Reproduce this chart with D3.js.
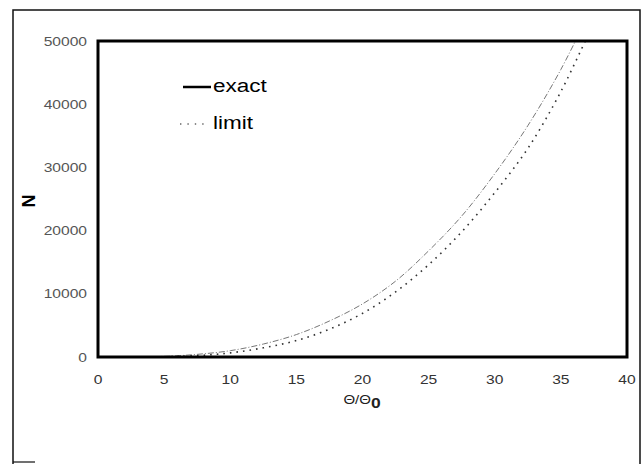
<!DOCTYPE html>
<html>
<head>
<meta charset="utf-8">
<script src="https://cdn.jsdelivr.net/npm/d3@7"></script>
<style>
  html, body { margin: 0; padding: 0; background: #fff; }
  svg { display: block; font-family: "Liberation Sans", Arial, sans-serif; }
</style>
</head>
<body>
<div id="chart"></div>
<script>
// values
const theta = [0, 5, 7.5, 10, 12.5, 15, 17.5, 20, 22.5, 25, 27.5, 30, 32.5, 35, 37.5];
const exactN = [0, 100, 420, 1000, 2050, 3550, 5700, 8400, 12000, 16800, 22300, 29000, 36600, 45500, 56000];
const limitN = [0, 40, 220, 650, 1450, 2600, 4400, 6900, 10300, 14600, 19800, 26000, 33000, 42000, 53000];
const xTicks = [0, 5, 10, 15, 20, 25, 30, 35, 40];
const yTicks = [0, 10000, 20000, 30000, 40000, 50000];

const width = 642;
const height = 464;
const plot = { left: 98, right: 627, top: 41, bottom: 357 };
const stretch = 1.25; // scan is wider than the glyphs

const x = d3.scaleLinear().domain([0, 40]).range([plot.left, plot.right]);
const y = d3.scaleLinear().domain([0, 50000]).range([plot.bottom, plot.top]);

const svg = d3.select('#chart')
  .append('svg')
  .attr('width', width)
  .attr('height', height)
  ;

// outer frame (bottom edge falls off the scan)
svg.append('path')
  .attr('d', `M13,470 L13,10 L640,10 L640,470`)
  .attr('fill', 'none')
  .attr('stroke', '#111')
  .attr('stroke-width', 1.5)
  ;
svg.append('line')
  .attr('x1', 13).attr('x2', 35)
  .attr('y1', 462).attr('y2', 462)
  .attr('stroke', '#111')
  .attr('stroke-width', 1.2)
  ;

svg.append('clipPath')
  .attr('id', 'plot-clip')
  .append('rect')
  .attr('x', plot.left)
  .attr('y', plot.top)
  .attr('width', plot.right - plot.left)
  .attr('height', plot.bottom - plot.top)
  ;

const line = d3.line()
  .x((d, i) => x(theta[i]))
  .y(d => y(d))
  .curve(d3.curveCatmullRom)
  ;

const curves = svg.append('g').attr('clip-path', 'url(#plot-clip)');

curves.append('path')
  .datum(exactN)
  .attr('d', line)
  .attr('fill', 'none')
  .attr('stroke', '#777')
  .attr('stroke-width', 1)
  .attr('stroke-dasharray', '6,2,1,2')
  ;

curves.append('path')
  .datum(limitN)
  .attr('d', line)
  .attr('fill', 'none')
  .attr('stroke', '#333')
  .attr('stroke-width', 1.6)
  .attr('stroke-dasharray', '1.6,5')
  ;

// plot box
svg.append('rect')
  .attr('x', plot.left)
  .attr('y', plot.top)
  .attr('width', plot.right - plot.left)
  .attr('height', plot.bottom - plot.top)
  .attr('fill', 'none')
  .attr('stroke', '#000')
  .attr('stroke-width', 3)
  ;

// y axis labels
const yAxis = svg.append('g')
  .attr('transform', `translate(${plot.left},0)`)
  .call(d3.axisLeft(y).tickValues(yTicks).tickSize(0).tickPadding(11).tickFormat(d3.format('d')))
  ;
yAxis.select('.domain').remove();
yAxis.selectAll('text')
  .attr('x', -11 / stretch)
  .attr('transform', `scale(${stretch},1)`)
  .attr('fill', '#555')
  .style('font-size', '12.5px')
  ;

// x axis labels
const xAxis = svg.append('g')
  .attr('transform', `translate(0,${plot.bottom})`)
  .call(d3.axisBottom(x).tickValues(xTicks).tickSize(0).tickPadding(18))
  ;
xAxis.select('.domain').remove();
xAxis.selectAll('.tick')
  .attr('transform', d => `translate(${x(d)},0) scale(${stretch},1)`)
  ;
xAxis.selectAll('text')
  .attr('fill', '#333')
  .style('font-size', '12.5px')
  ;

// axis titles
const xTitle = svg.append('text')
  .attr('transform', `translate(362,404) scale(${stretch},1)`)
  .attr('text-anchor', 'middle')
  .attr('fill', '#222')
  .style('font-size', '12px')
  ;
xTitle.append('tspan').text('Θ/Θ');
xTitle.append('tspan')
  .attr('dy', 4)
  .style('font-size', '14px')
  .style('font-weight', 'bold')
  .text('0')
  ;

svg.append('text')
  .attr('transform', 'translate(35,201) rotate(-90)')
  .attr('text-anchor', 'middle')
  .attr('fill', '#000')
  .style('font-size', '18px')
  .style('font-weight', 'bold')
  .text('N')
  ;

// legend
const legend = svg.append('g');
legend.append('line')
  .attr('x1', 183).attr('x2', 211)
  .attr('y1', 87).attr('y2', 87)
  .attr('stroke', '#000')
  .attr('stroke-width', 2.5)
  ;
legend.append('text')
  .attr('transform', `translate(213,92) scale(${stretch},1)`)
  .attr('fill', '#000')
  .style('font-size', '18px')
  .text('exact')
  ;
legend.append('line')
  .attr('x1', 180).attr('x2', 205)
  .attr('y1', 124).attr('y2', 124)
  .attr('stroke', '#666')
  .attr('stroke-width', 1.4)
  .attr('stroke-dasharray', '1.4,6')
  ;
legend.append('text')
  .attr('transform', `translate(213,129) scale(${stretch},1)`)
  .attr('fill', '#000')
  .style('font-size', '18px')
  .text('limit')
  ;
</script>
</body>
</html>
